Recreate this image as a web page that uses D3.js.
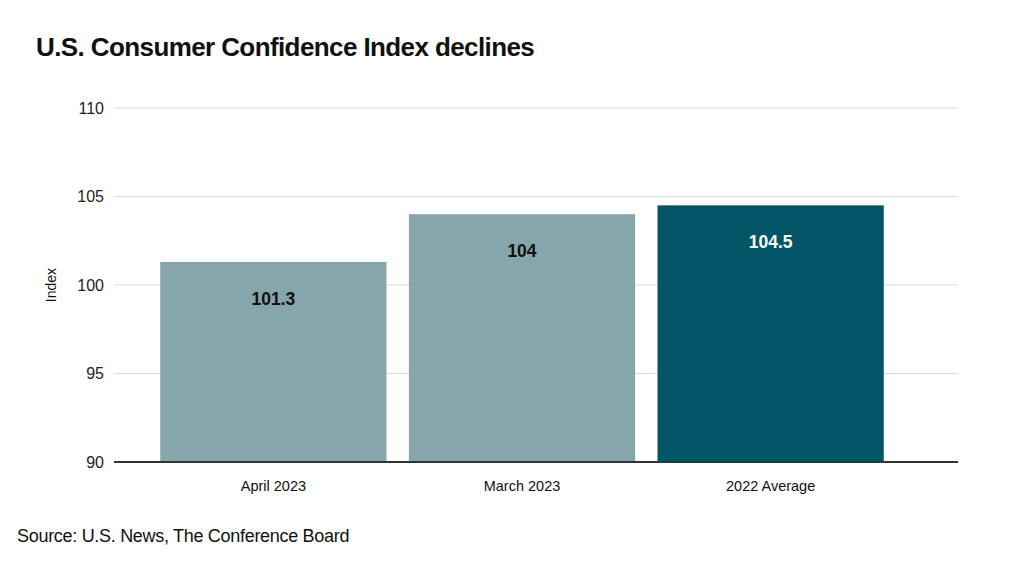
<!DOCTYPE html>
<html>
<head>
<meta charset="utf-8">
<script src="https://cdn.jsdelivr.net/npm/d3@7"></script>
<style>
  body { margin: 0; background: #fff; }
  svg text { font-family: "Liberation Sans", Arial, sans-serif; }
</style>
</head>
<body>
<div id="chart"></div>
<script>
// data
const categories = ["April 2023", "March 2023", "2022 Average"];
const values = [101.3, 104, 104.5];
const barColors = ["#86a6ab", "#86a6ab", "#025565"];
const labelColors = ["#111", "#111", "#fff"];
const yTicks = [90, 95, 100, 105, 110];

const width = 1024, height = 565;

const svg = d3.select("#chart").append("svg")
    .attr("width", width)
    .attr("height", height);

// title
svg.append("text")
    .attr("x", 36)
    .attr("y", 56)
    .attr("font-size", 26)
    .attr("font-weight", "bold")
    .attr("letter-spacing", -0.6)
    .attr("fill", "#111")
    .text("U.S. Consumer Confidence Index declines");

// scales
let y = d3.scaleLinear()
    .domain([90, 110])
    .range([462, 108]);

let x = d3.scaleBand()
    .domain(categories)
    .range([113, 931])
    .paddingInner(0.09)
    .paddingOuter(0.19);

// gridlines
svg.append("g")
    .selectAll("line")
    .data(yTicks.filter(d => d !== 90))
    .enter()
    .append("line")
    .attr("x1", 114)
    .attr("x2", 958)
    .attr("y1", d => y(d))
    .attr("y2", d => y(d))
    .attr("stroke", "#d9d9d9")
    .attr("stroke-width", 1);

// y tick labels
let yAxis = svg.append("g")
    .attr("transform", "translate(104,0)")
    .call(d3.axisLeft(y).tickValues(yTicks).tickSize(0).tickPadding(0));
yAxis.select(".domain").remove();
yAxis.selectAll("text")
    .attr("font-size", 16)
    .attr("fill", "#222")
    .attr("font-family", "Liberation Sans, Arial, sans-serif");

// axis title
svg.append("text")
    .attr("transform", "translate(56,285) rotate(-90)")
    .attr("text-anchor", "middle")
    .attr("font-size", 14)
    .attr("fill", "#111")
    .text("Index");

// bars
let bars = svg.append("g")
    .selectAll("rect")
    .data(categories)
    .enter()
    .append("rect")
    .attr("x", d => x(d))
    .attr("width", x.bandwidth())
    .attr("y", (d, i) => y(values[i]))
    .attr("height", (d, i) => y(90) - y(values[i]))
    .attr("fill", (d, i) => barColors[i]);

// value labels
svg.append("g")
    .selectAll("text")
    .data(categories)
    .enter()
    .append("text")
    .attr("x", d => x(d) + x.bandwidth() / 2)
    .attr("y", (d, i) => y(values[i]) + 43)
    .attr("text-anchor", "middle")
    .attr("font-size", 17.5)
    .attr("font-weight", "bold")
    .attr("fill", (d, i) => labelColors[i])
    .text((d, i) => values[i]);

// baseline
svg.append("line")
    .attr("x1", 114)
    .attr("x2", 958)
    .attr("y1", y(90))
    .attr("y2", y(90))
    .attr("stroke", "#333")
    .attr("stroke-width", 2);

// x axis labels
let xAxis = svg.append("g")
    .attr("transform", "translate(0," + y(90) + ")")
    .call(d3.axisBottom(x).tickSize(0).tickPadding(0));
xAxis.select(".domain").remove();
xAxis.selectAll("text")
    .attr("dy", 0)
    .attr("y", 29)
    .attr("font-size", 14.5)
    .attr("fill", "#111")
    .attr("font-family", "Liberation Sans, Arial, sans-serif");

// source
svg.append("text")
    .attr("x", 17)
    .attr("y", 542)
    .attr("font-size", 18)
    .attr("letter-spacing", -0.3)
    .attr("fill", "#111")
    .text("Source: U.S. News, The Conference Board");
</script>
</body>
</html>
